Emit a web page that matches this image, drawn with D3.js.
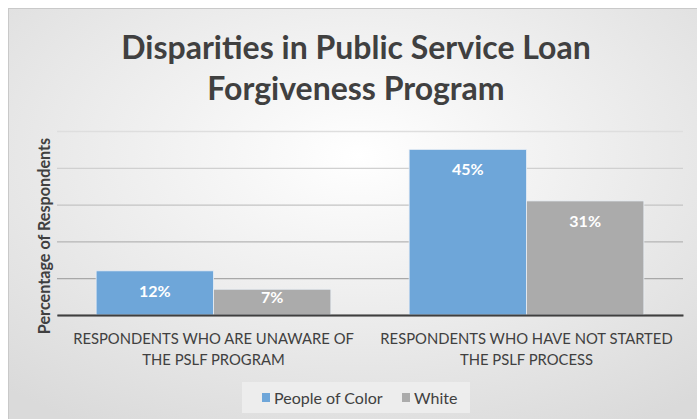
<!DOCTYPE html>
<html><head><meta charset="utf-8">
<script src="https://cdn.jsdelivr.net/npm/d3@7"></script>
<style>html,body{margin:0;padding:0;background:#fff;}svg{display:block;}</style>
</head><body>
<svg id="c" width="697" height="419"></svg>
<script>
const categories = [
  ["RESPONDENTS WHO ARE UNAWARE OF", "THE PSLF PROGRAM"],
  ["RESPONDENTS WHO HAVE NOT STARTED", "THE PSLF PROCESS"]
];
const seriesNames = ["People of Color", "White"];
const peopleOfColor = [12, 45];
const white = [7, 31];
const yTicks = [0, 10, 20, 30, 40, 50];
const colors = ["#6ea6d9", "#ababab"];

(function () {
const svg = d3.select("#c");
const defs = svg.append("defs");
const rg = defs.append("radialGradient").attr("id","bg").attr("cx","50%").attr("cy","35%").attr("r","75%");
rg.append("stop").attr("offset","0%").attr("stop-color","#ffffff");
rg.append("stop").attr("offset","100%").attr("stop-color","#dadada");

svg.append("rect").attr("x",8.5).attr("y",8.5).attr("width",700).attr("height",420)
  .attr("fill","url(#bg)").attr("stroke","#c9c9c9").attr("stroke-width",1);

const font = "Lato, 'Open Sans', sans-serif";
const textColor = "#404040";

const title = svg.append("text").attr("text-anchor","middle").attr("fill",textColor)
  .attr("font-family",font).attr("font-weight","bold").attr("font-size",32);
title.append("tspan").attr("x",356).attr("y",59).text("Disparities in Public Service Loan");
title.append("tspan").attr("x",356).attr("y",100).text("Forgiveness Program");

const mLeft = 57, mRight = 683, mTop = 131, mBottom = 315;
const y = d3.scaleLinear().domain([0, 50]).range([mBottom, mTop]);
const x0 = d3.scaleBand().domain(d3.range(categories.length)).range([mLeft, mRight]).paddingInner(0.25).paddingOuter(0.125);
const x1 = d3.scaleBand().domain(d3.range(seriesNames.length)).range([0, x0.bandwidth()]);

const gridColor = d3.scaleLinear().domain([0, 50]).range(["#9a9a9a", "#dedede"]);
const yAxis = d3.axisLeft(y).tickValues(yTicks).tickSize(-(mRight-mLeft)).tickFormat("");
const ga = svg.append("g").attr("transform",`translate(${mLeft},0)`).call(yAxis);
ga.select(".domain").remove();
ga.selectAll(".tick line").attr("stroke", d => gridColor(d)).attr("stroke-width",1.3);

const data = [peopleOfColor, white];
categories.forEach((cat, i) => {
  const g = svg.append("g").attr("transform",`translate(${x0(i)},0)`);
  data.forEach((vals, s) => {
    g.append("rect").attr("x", x1(s)).attr("y", y(vals[i]))
      .attr("width", x1.bandwidth()).attr("height", y(0) - y(vals[i]))
      .attr("fill", colors[s]).attr("stroke","#e8eef5").attr("stroke-width",0.8);
    g.append("text").attr("x", x1(s) + x1.bandwidth()/2)
      .attr("y", Math.min(y(vals[i]) + 26, y(0) - 12))
      .attr("text-anchor","middle").attr("fill","#ffffff").attr("font-family",font)
      .attr("font-weight","bold").attr("font-size",16).text(vals[i] + "%");
  });
});

const xAxis = d3.axisBottom(x0).tickSize(0).tickFormat("");
const gx = svg.append("g").attr("transform",`translate(0,${mBottom})`).call(xAxis);
gx.select(".domain").attr("stroke","#3f3f3f").attr("stroke-width",2.2);

categories.forEach((cat, i) => {
  const t = svg.append("text").attr("text-anchor","middle").attr("fill",textColor)
    .attr("font-family",font).attr("font-size",14.8);
  cat.forEach((line, k) => {
    t.append("tspan").attr("x", x0(i) + x0.bandwidth()/2).attr("y", 344 + k*21).text(line);
  });
});

svg.append("text").attr("transform","translate(50,236) rotate(-90)").attr("text-anchor","middle")
  .attr("fill",textColor).attr("font-family",font).attr("font-weight","bold").attr("font-size",16.2)
  .text("Percentage of Respondents");

svg.append("rect").attr("x",242).attr("y",382).attr("width",228).attr("height",31).attr("fill","#ededed");
const legX = [262, 402];
seriesNames.forEach((n, s) => {
  svg.append("rect").attr("x",legX[s]).attr("y",393).attr("width",8).attr("height",9).attr("fill",colors[s]);
  svg.append("text").attr("x",legX[s]+12).attr("y",403.5).attr("fill",textColor)
    .attr("font-family",font).attr("font-size",16).text(n);
});
})();
</script>
</body></html>
